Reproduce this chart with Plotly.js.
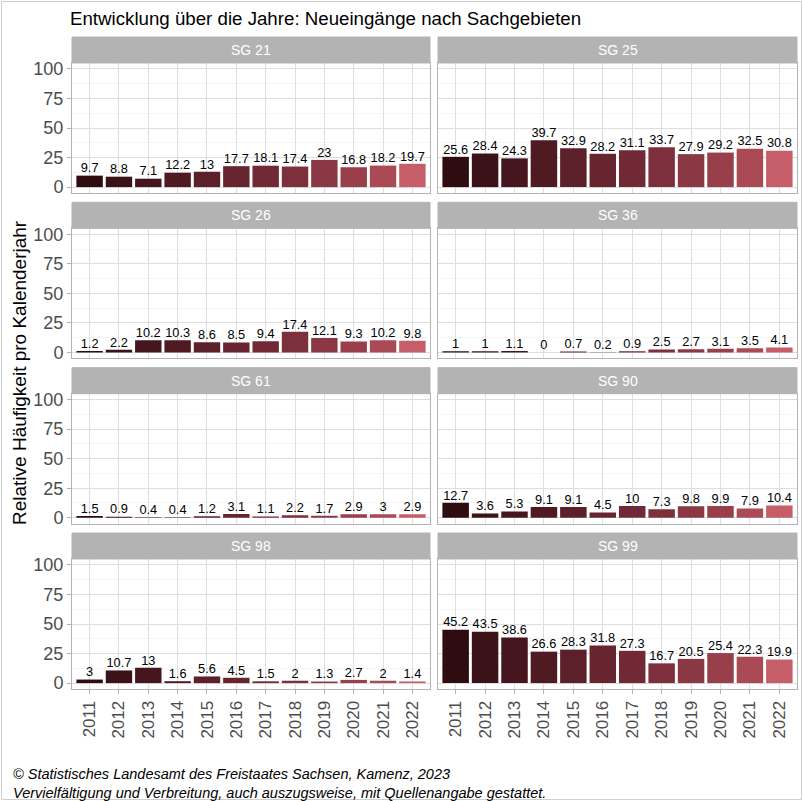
<!DOCTYPE html>
<html>
<head>
<meta charset="utf-8">
<script src="https://cdn.plot.ly/plotly-3.0.1.min.js"></script>
<style>html,body{margin:0;padding:0;background:#fff;}#chart{width:803px;height:801px;}</style>
</head>
<body>
<div id="chart"></div>
<script>
// ---- data ----
const years = ["2011","2012","2013","2014","2015","2016","2017","2018","2019","2020","2021","2022"];
const panelNames = ["SG 21","SG 25","SG 26","SG 36","SG 61","SG 90","SG 98","SG 99"];
const sg21 = [9.7, 8.8, 7.1, 12.2, 13, 17.7, 18.1, 17.4, 23, 16.8, 18.2, 19.7];
const sg25 = [25.6, 28.4, 24.3, 39.7, 32.9, 28.2, 31.1, 33.7, 27.9, 29.2, 32.5, 30.8];
const sg26 = [1.2, 2.2, 10.2, 10.3, 8.6, 8.5, 9.4, 17.4, 12.1, 9.3, 10.2, 9.8];
const sg36 = [1, 1, 1.1, 0, 0.7, 0.2, 0.9, 2.5, 2.7, 3.1, 3.5, 4.1];
const sg61 = [1.5, 0.9, 0.4, 0.4, 1.2, 3.1, 1.1, 2.2, 1.7, 2.9, 3, 2.9];
const sg90 = [12.7, 3.6, 5.3, 9.1, 9.1, 4.5, 10, 7.3, 9.8, 9.9, 7.9, 10.4];
const sg98 = [3, 10.7, 13, 1.6, 5.6, 4.5, 1.5, 2, 1.3, 2.7, 2, 1.4];
const sg99 = [45.2, 43.5, 38.6, 26.6, 28.3, 31.8, 27.3, 16.7, 20.5, 25.4, 22.3, 19.9];
const yTicks = [0, 25, 50, 75, 100];
const titleText = "Entwicklung über die Jahre: Neueingänge nach Sachgebieten";
const yTitleText = "Relative Häufigkeit pro Kalenderjahr";
const captionText = "© Statistisches Landesamt des Freistaates Sachsen, Kamenz, 2023<br>Vervielfältigung und Verbreitung, auch auszugsweise, mit Quellenangabe gestattet.";

// ---- style ----
const yearColors = ["#2e0c10","#3a1218","#45161d","#501a23","#5b2029","#66252f","#712a35","#7d303c","#8a3843","#983f4b","#a94a55","#c55e68"];
const FONT = "Liberation Sans, Arial, Helvetica, sans-serif";
const W = 803, H = 801;
const M = {l:72, r:6, t:37, b:112};
const PW = W - M.l - M.r, PH = H - M.t - M.b;
const stripH = 26, plotH = 130, blockH = stripH + plotH;
const gapY = (PH - 4*blockH) / 3;
const colX = [[0, (430-72)/PW], [(438-72)/PW, 1]];

const seriesList = [sg21, sg25, sg26, sg36, sg61, sg90, sg98, sg99];
const traces = [];
const layout = {
  width: W, height: H,
  margin: {l:M.l, r:M.r, t:M.t, b:M.b, pad:0},
  paper_bgcolor: "#ffffff", plot_bgcolor: "#ffffff",
  showlegend: false,
  font: {family: FONT, color: "#4d4d4d"},
  title: {text: titleText, font: {family: FONT, size: 18.7, color: "#000000"},
          x: 70/W, xref: "container", xanchor: "left", y: 1 - 18/H, yref: "container", yanchor: "middle"},
  shapes: [], annotations: []
};

function py(pix){ return 1 - (pix - M.t)/PH; }
function px(pix){ return (pix - M.l)/PW; }

seriesList.forEach((vals, i) => {
  const row = Math.floor(i/2), col = i % 2;
  const n = i + 1;
  const xa = "x" + (n === 1 ? "" : n), ya = "y" + (n === 1 ? "" : n);
  const top = M.t + row*(blockH + gapY);
  const plotTop = top + stripH, plotBot = top + blockH;
  traces.push({
    type: "bar", x: years, y: vals, xaxis: xa, yaxis: ya,
    width: 0.9, marker: {color: yearColors, line: {width: 0}},
    hoverinfo: "skip"
  });
  traces.push({
    type: "scatter", mode: "text", x: years, y: vals, xaxis: xa, yaxis: ya,
    text: vals.map(v => String(v)), textposition: "top center",
    textfont: {family: FONT, size: 12.8, color: "#000000"},
    cliponaxis: false, hoverinfo: "skip"
  });
  const isLeft = col === 0, isBottom = row === 3;
  layout["xaxis" + (n === 1 ? "" : n)] = {
    domain: colX[col], anchor: ya, type: "category",
    range: [-0.6, 11.6], fixedrange: true,
    showgrid: true, gridcolor: "#dedede", gridwidth: 1,
    showline: true, mirror: true, linecolor: "#b3b3b3", linewidth: 1,
    showticklabels: isBottom, tickangle: -90,
    ticks: isBottom ? "outside" : "", ticklen: 4, tickcolor: "#b3b3b3",
    tickfont: {family: FONT, size: 17, color: "#4d4d4d"},
    zeroline: false
  };
  layout["yaxis" + (n === 1 ? "" : n)] = {
    domain: [py(plotBot), py(plotTop)], anchor: xa,
    range: [-5, 105], fixedrange: true,
    tickvals: yTicks, ticktext: yTicks.map(String),
    showgrid: true, gridcolor: "#dedede", gridwidth: 1,
    minor: {tickvals: [12.5, 37.5, 62.5, 87.5], showgrid: true, gridcolor: "#efefef", gridwidth: 0.7, ticks: ""},
    showline: true, mirror: true, linecolor: "#b3b3b3", linewidth: 1,
    showticklabels: isLeft, ticks: isLeft ? "outside" : "", ticklen: 4, tickcolor: "#b3b3b3",
    tickfont: {family: FONT, size: 18, color: "#4d4d4d"},
    zeroline: false
  };
  // strip
  layout.shapes.push({
    type: "rect", xref: "paper", yref: "paper", layer: "above",
    x0: colX[col][0], x1: colX[col][1], y0: py(plotTop), y1: py(top),
    fillcolor: "#b3b3b3", line: {color: "#b3b3b3", width: 1}
  });
  layout.annotations.push({
    xref: "paper", yref: "paper", x: (colX[col][0] + colX[col][1])/2, y: py(top + stripH/2),
    xanchor: "center", yanchor: "middle", showarrow: false,
    text: panelNames[i], font: {family: FONT, size: 14, color: "#ffffff"}
  });
});

// y axis title
layout.annotations.push({
  xref: "paper", yref: "paper", x: px(19), y: py(373), xanchor: "center", yanchor: "middle",
  textangle: -90, showarrow: false, text: yTitleText,
  font: {family: FONT, size: 19, color: "#000000"}
});
// caption
layout.annotations.push({
  xref: "paper", yref: "paper", x: px(11), y: py(764), xanchor: "left", yanchor: "top",
  align: "left", showarrow: false, text: "<i>" + captionText + "</i>",
  font: {family: FONT, size: 14.5, color: "#000000"}
});
// outer frame
layout.shapes.push({
  type: "rect", xref: "paper", yref: "paper", layer: "above",
  x0: px(1.5), x1: px(801.5), y0: py(799.5), y1: py(1.5),
  line: {color: "#cfcfcf", width: 1}, fillcolor: "rgba(0,0,0,0)"
});

Plotly.newPlot("chart", traces, layout, {staticPlot: true, displayModeBar: false});
</script>
</body>
</html>
